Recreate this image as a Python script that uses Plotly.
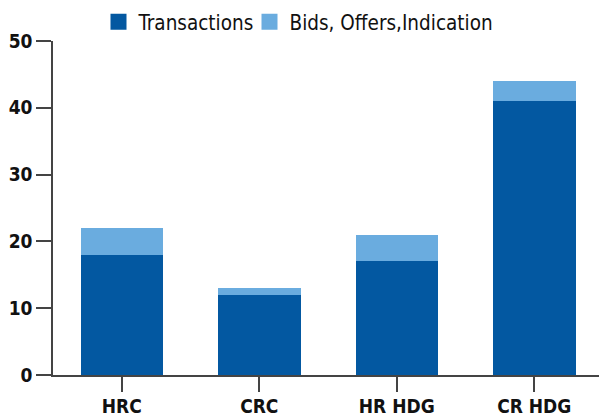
import plotly.graph_objects as go

categories = ["HRC", "CRC", "HR HDG", "CR HDG"]
transactions = [18, 12, 17, 41]
bids_offers = [4, 1, 4, 3]
y_ticks = [0, 10, 20, 30, 40, 50]
series_names = ["Transactions", "Bids, Offers,Indication"]
series_colors = ["#0358a1", "#6aacdf"]

FONT = "DejaVu Sans Condensed"

fig = go.Figure()
fig.add_trace(go.Bar(x=categories, y=transactions, name=series_names[0],
                     marker=dict(color=series_colors[0], line=dict(width=0)), width=0.6,
                     showlegend=False))
fig.add_trace(go.Bar(x=categories, y=bids_offers, name=series_names[1],
                     marker=dict(color=series_colors[1], line=dict(width=0)), width=0.6,
                     showlegend=False))

# legend entries (square swatches)
for i, (nm, col) in enumerate(zip(series_names, series_colors)):
    fig.add_trace(go.Scatter(x=[None], y=[None], mode="markers", name=nm,
                             marker=dict(symbol="square", size=16, color=col),
                             legend="legend" if i == 0 else "legend2"))

leg_common = dict(orientation="h", xref="container", yref="container",
                  y=1 - 2/414, xanchor="left", yanchor="top",
                  font=dict(size=20.5, family=FONT, color="#111"),
                  bgcolor="rgba(0,0,0,0)", itemsizing="trace")

fig.update_layout(
    barmode="stack",
    width=599, height=414,
    margin=dict(l=53, r=0, t=41, b=39, autoexpand=False),
    paper_bgcolor="white", plot_bgcolor="white",
    font=dict(family=FONT, color="#111111"),
    showlegend=True,
    legend=dict(x=98.5/599, **leg_common),
    legend2=dict(x=249.5/599, **leg_common),
    bargap=0.4,
)
tf = dict(size=19, family=FONT, weight="bold", color="#111")
fig.update_xaxes(range=[-0.5, 3.5 - 4/137.5], showline=True, linecolor="#444", linewidth=1.5,
                 ticks="outside", ticklen=15, tickcolor="#444", tickwidth=1.5,
                 ticklabelstandoff=-2,
                 tickfont=tf, showgrid=False, fixedrange=True)
fig.update_yaxes(range=[0, 50], tickvals=y_ticks, showline=True, linecolor="#444", linewidth=1.5,
                 ticks="outside", ticklen=15, tickcolor="#444", tickwidth=1.5,
                 tickfont=tf, showgrid=False, zeroline=False, fixedrange=True)

fig.write_html("out.html", config={"displayModeBar": False},
               post_script="document.body.style.margin='0';")
